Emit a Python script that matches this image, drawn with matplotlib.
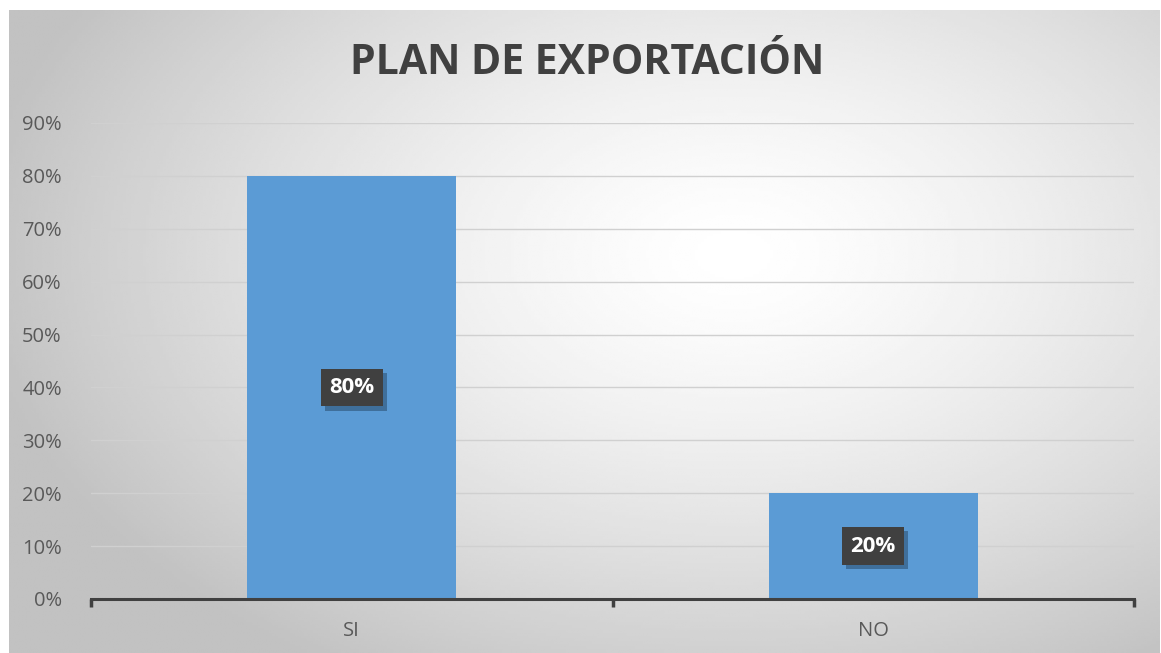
import numpy as np
import matplotlib.pyplot as plt
import matplotlib.patheffects as pe

categorias = ['SI', 'NO']
valores = [0.80, 0.20]
titulo = 'PLAN DE EXPORTACIÓN'

plt.rcParams['font.family'] = ['Open Sans', 'DejaVu Sans']

fig = plt.figure(figsize=(11.61, 6.53), dpi=100)
fig.patch.set_facecolor('white')

# fondo con degradado radial
fondo = fig.add_axes([9 / 1161, 0, 1151 / 1161, 643 / 653])
fondo.set_axis_off()
xx, yy = np.meshgrid(np.linspace(0, 1, 400), np.linspace(0, 1, 240))
d = np.sqrt(((xx - 0.63) / 0.7) ** 2 + ((yy - 0.38) / 0.8) ** 2)
gris = np.clip(1.0 - 0.26 * d ** 1.4, 0.76, 1.0)
fondo.imshow(gris, cmap='gray', vmin=0, vmax=1, aspect='auto',
             extent=[0, 1, 0, 1], origin='upper', interpolation='bilinear')
fondo.set_xlim(0, 1)
fondo.set_ylim(0, 1)

ax = fig.add_axes([91 / 1161, (653 - 599) / 653, (1134 - 91) / 1161, (599 - 123) / 653])
ax.patch.set_alpha(0)

x = np.arange(len(categorias))
ax.bar(x, valores, width=0.4, color='#5b9bd5', zorder=3)
ax.set_xlim(-0.5, len(categorias) - 0.5)
ax.set_ylim(0, 0.9)
ax.set_yticks(np.arange(0, 0.91, 0.1))
ax.set_yticklabels([f'{int(round(v * 100))}%' for v in np.arange(0, 0.91, 0.1)])
ax.set_xticks(x)
ax.set_xticklabels(categorias)
ax.grid(axis='y', color='#d0d0d0', linewidth=1, zorder=0)

for lado in ['top', 'right', 'left']:
    ax.spines[lado].set_visible(False)
ax.spines['bottom'].set_color('#404040')
ax.spines['bottom'].set_linewidth(2.2)
ax.spines['bottom'].set_zorder(4)

ax.tick_params(axis='y', length=0, pad=21, labelsize=14.5, labelcolor='#595959')
ax.tick_params(axis='x', length=0, pad=16, labelsize=14.5, labelcolor='#595959')

# marcas de división del eje x
for pos in [-0.5, 0.5, 1.5]:
    ax.plot([pos, pos], [0, -0.015], color='#404040', linewidth=2.5,
            clip_on=False, zorder=4, solid_capstyle='butt')

# etiquetas de valor
for xi, v in zip(x, valores):
    t = ax.text(xi, v / 2, f'{int(round(v * 100))}%', ha='center', va='center',
                color='white', fontsize=16, fontweight='bold', zorder=5,
                bbox=dict(boxstyle='square,pad=0.38', facecolor='#404040',
                          edgecolor='none'))
    t.get_bbox_patch().set_path_effects([
        pe.SimplePatchShadow(offset=(3, -3), shadow_rgbFace='#1f3a55', alpha=0.45),
        pe.Normal()])

fig.text(587 / 1161, 1 - 64 / 653, titulo, ha='center', va='center',
         fontsize=29.5, fontweight='bold', color='#404040')

fig.savefig('out.png', dpi=100)
